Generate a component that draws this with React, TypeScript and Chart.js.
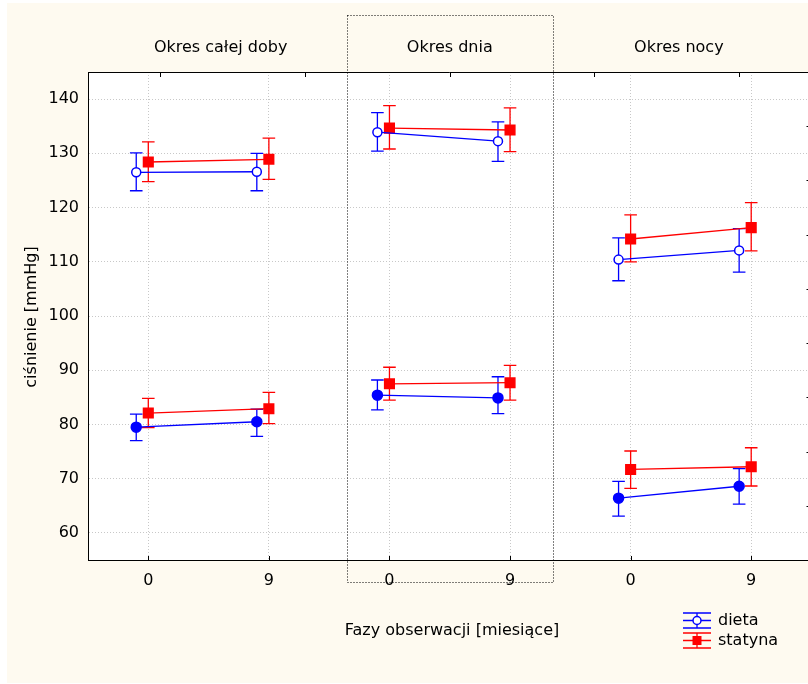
import React, { useEffect, useRef } from "react";
import { Chart, registerables } from "chart.js";

Chart.register(...registerables);

// ---------- data ----------
const xPositions = [0, 1, 2, 3, 4, 5];
const xTickLabels = ["0", "9", "0", "9", "0", "9"];
const panelTitles = ["Okres całej doby", "Okres dnia", "Okres nocy"];
const yTicks = [60, 70, 80, 90, 100, 110, 120, 130, 140];
const rightMinorTicks = [65, 75, 85, 95, 105, 115, 125, 135];
const topTicks = [0.1, 1.3, 2.5, 3.7, 4.9];
const seriesNames = ["dieta", "statyna"];

// systolic (upper group)
const dietaSys = [126.5, 126.6, 133.9, 132.25, 110.4, 112.1];
const dietaSysLo = [123.1, 123.1, 130.4, 128.5, 106.5, 108.1];
const dietaSysHi = [130.1, 130.0, 137.5, 135.8, 114.4, 116.1];
const statynaSys = [128.4, 128.9, 134.65, 134.3, 114.2, 116.3];
const statynaSysLo = [124.8, 125.2, 130.8, 130.3, 110.0, 112.0];
const statynaSysHi = [132.1, 132.8, 138.8, 138.4, 118.65, 120.9];
// diastolic (lower group)
const dietaDia = [79.5, 80.5, 85.4, 84.9, 66.4, 68.6];
const dietaDiaLo = [77.0, 77.8, 82.7, 82.0, 63.1, 65.3];
const dietaDiaHi = [81.9, 82.8, 88.2, 88.8, 69.5, 71.85];
const statynaDia = [82.1, 82.9, 87.5, 87.7, 71.7, 72.2];
const statynaDiaLo = [79.4, 80.15, 84.5, 84.5, 68.2, 68.65];
const statynaDiaHi = [84.8, 85.9, 90.55, 90.9, 75.1, 75.7];

// ---------- styles ----------
const BLUE = "#0000ff";
const RED = "#ff0000";
const CREAM = "#fefaf0";
const GRID = "#c8c8c8";
const FONT_FAMILY = '"DejaVu Sans", "Liberation Sans", Arial, sans-serif';
const FONT = `16px ${FONT_FAMILY}`;
const W = 830;
const H = 684;
const BLUE_SHIFT = -0.1;

type S = {
  vals: number[];
  lo: number[];
  hi: number[];
  color: string;
  shift: number;
  style: string;
  radius: number;
  fill: string;
};

const seriesDefs: S[] = [
  { vals: dietaSys, lo: dietaSysLo, hi: dietaSysHi, color: BLUE, shift: BLUE_SHIFT, style: "circle", radius: 4.5, fill: "#ffffff" },
  { vals: statynaSys, lo: statynaSysLo, hi: statynaSysHi, color: RED, shift: 0, style: "rect", radius: 6.8, fill: RED },
  { vals: dietaDia, lo: dietaDiaLo, hi: dietaDiaHi, color: BLUE, shift: BLUE_SHIFT, style: "circle", radius: 5, fill: BLUE },
  { vals: statynaDia, lo: statynaDiaLo, hi: statynaDiaHi, color: RED, shift: 0, style: "rect", radius: 6.8, fill: RED },
];

function buildDatasets() {
  const ds: any[] = [];
  for (let p = 0; p < 3; p++) {
    const idx = [2 * p, 2 * p + 1];
    seriesDefs.forEach((s) => {
      ds.push({
        data: idx.map((i) => ({ x: xPositions[i] + s.shift, y: s.vals[i] })),
        lo: idx.map((i) => s.lo[i]),
        hi: idx.map((i) => s.hi[i]),
        borderColor: s.color,
        borderWidth: 1.3,
        pointStyle: s.style,
        pointRadius: s.radius,
        pointBackgroundColor: s.fill,
        pointBorderColor: s.color,
        pointBorderWidth: 1.5,
        showLine: true,
        fill: false,
        tension: 0,
      });
    });
  }
  return ds;
}

const decorPlugin = {
  id: "decor",
  beforeDraw(chart: any) {
    const { ctx, chartArea: ca } = chart;
    ctx.save();
    ctx.fillStyle = "#ffffff";
    ctx.fillRect(0, 0, chart.width, chart.height);
    ctx.fillStyle = CREAM;
    ctx.fillRect(7, 3, chart.width - 7, 680);
    ctx.fillStyle = "#ffffff";
    ctx.fillRect(ca.left, ca.top, ca.right - ca.left, ca.bottom - ca.top);
    ctx.restore();
  },
  beforeDatasetsDraw(chart: any) {
    const { ctx } = chart;
    const xs = chart.scales.x;
    const ys = chart.scales.y;
    ctx.save();
    chart.data.datasets.forEach((d: any) => {
      ctx.strokeStyle = d.borderColor;
      ctx.lineWidth = 1.3;
      d.data.forEach((pt: any, j: number) => {
        const px = xs.getPixelForValue(pt.x);
        const yl = ys.getPixelForValue(d.lo[j]);
        const yh = ys.getPixelForValue(d.hi[j]);
        const cap = 6.3;
        ctx.beginPath();
        ctx.moveTo(px, yl);
        ctx.lineTo(px, yh);
        ctx.moveTo(px - cap, yl);
        ctx.lineTo(px + cap, yl);
        ctx.moveTo(px - cap, yh);
        ctx.lineTo(px + cap, yh);
        ctx.stroke();
      });
    });
    ctx.restore();
  },
  afterDraw(chart: any) {
    const { ctx, chartArea: ca } = chart;
    const xs = chart.scales.x;
    const ys = chart.scales.y;
    ctx.save();
    // top frame line
    ctx.strokeStyle = "#000";
    ctx.lineWidth = 1;
    ctx.beginPath();
    ctx.moveTo(ca.left, Math.round(ca.top) + 0.5);
    ctx.lineTo(ca.right, Math.round(ca.top) + 0.5);
    ctx.stroke();
    // inward ticks: bottom at categories
    ctx.beginPath();
    xPositions.forEach((v) => {
      const px = Math.round(xs.getPixelForValue(v)) + 0.5;
      ctx.moveTo(px, ca.bottom);
      ctx.lineTo(px, ca.bottom - 4);
    });
    // top ticks
    topTicks.forEach((v) => {
      const px = Math.round(xs.getPixelForValue(v)) + 0.5;
      ctx.moveTo(px, ca.top);
      ctx.lineTo(px, ca.top + 5);
    });
    // right ticks
    rightMinorTicks.forEach((v) => {
      const py = Math.round(ys.getPixelForValue(v)) + 0.5;
      ctx.moveTo(ca.right, py);
      ctx.lineTo(ca.right - 5, py);
    });
    ctx.stroke();

    // panel titles
    ctx.fillStyle = "#000";
    ctx.font = FONT;
    ctx.textAlign = "center";
    ctx.textBaseline = "middle";
    const titleX = [0.6, 2.5, 4.4];
    panelTitles.forEach((t, i) => {
      ctx.fillText(t, xs.getPixelForValue(titleX[i]), 48);
    });
    // x axis title
    ctx.fillText("Fazy obserwacji [miesiące]", 452, 631);
    // y axis title
    ctx.save();
    ctx.translate(32, 317);
    ctx.rotate(-Math.PI / 2);
    ctx.fillText("ciśnienie [mmHg]", 0, 0);
    ctx.restore();

    // dotted rectangle around middle panel
    ctx.strokeStyle = "#000";
    ctx.lineWidth = 1;
    ctx.setLineDash([1, 2]);
    const rl = Math.round(xs.getPixelForValue(2.5 - 0.855)) + 0.5;
    const rr = Math.round(xs.getPixelForValue(2.5 + 0.86)) + 0.5;
    ctx.strokeRect(rl, 15.5, rr - rl, 567);
    ctx.setLineDash([]);

    // legend
    const legendColors = [BLUE, RED];
    const legendY = [620.5, 640.5];
    seriesNames.forEach((name, i) => {
      const cy = legendY[i];
      const c = legendColors[i];
      ctx.strokeStyle = c;
      ctx.lineWidth = 1.3;
      ctx.beginPath();
      for (const dy of [-7.5, 0, 7.5]) {
        ctx.moveTo(683, cy + dy);
        ctx.lineTo(711, cy + dy);
      }
      ctx.moveTo(697, cy - 7.5);
      ctx.lineTo(697, cy + 7.5);
      ctx.stroke();
      if (i === 0) {
        ctx.fillStyle = "#fff";
        ctx.lineWidth = 1.5;
        ctx.beginPath();
        ctx.arc(697, cy, 4, 0, Math.PI * 2);
        ctx.fill();
        ctx.stroke();
      } else {
        ctx.fillStyle = RED;
        ctx.fillRect(692.5, cy - 4.5, 9, 9);
      }
      ctx.fillStyle = "#000";
      ctx.textAlign = "left";
      ctx.fillText(name, 718, cy);
    });
    ctx.restore();
  },
};

export default function App() {
  const ref = useRef<HTMLCanvasElement | null>(null);

  useEffect(() => {
    if (!ref.current) return;
    Chart.defaults.font.family = FONT_FAMILY;
    const chart = new Chart(ref.current, {
      type: "line",
      data: { datasets: buildDatasets() },
      options: {
        responsive: false,
        animation: false,
        devicePixelRatio: 1,
        layout: { padding: { left: 0, top: 72, right: W - 811.5, bottom: H - 560 - 40 } },
        plugins: {
          legend: { display: false },
          tooltip: { enabled: false },
          title: { display: false },
        },
        scales: {
          x: {
            type: "linear",
            min: -0.5,
            max: 5.5,
            afterBuildTicks: (s: any) => {
              s.ticks = xPositions.map((v) => ({ value: v }));
            },
            afterFit: (s: any) => {
              s.height = 40;
            },
            ticks: {
              color: "#000",
              font: { size: 16, family: FONT_FAMILY },
              padding: 11,
              maxRotation: 0,
              autoSkip: false,
              callback: (v: any) => xTickLabels[xPositions.indexOf(Number(v))] ?? "",
            },
            grid: { color: GRID, lineWidth: 1, drawTicks: false },
            border: { display: true, color: "#000", width: 1, dash: [1, 2] },
          },
          y: {
            type: "linear",
            min: 55,
            max: 145,
            afterBuildTicks: (s: any) => {
              s.ticks = yTicks.map((v) => ({ value: v }));
            },
            afterFit: (s: any) => {
              s.width = 88;
            },
            ticks: {
              color: "#000",
              font: { size: 16, family: FONT_FAMILY },
              padding: 9,
              autoSkip: false,
            },
            grid: { color: GRID, lineWidth: 1, drawTicks: false },
            border: { display: true, color: "#000", width: 1, dash: [1, 2] },
          },
        },
      },
      plugins: [decorPlugin],
    } as any);
    return () => chart.destroy();
  }, []);

  return (
    <div
      style={{
        position: "absolute",
        left: 0,
        top: 0,
        width: 808,
        height: 684,
        overflow: "hidden",
        background: "#fff",
      }}
    >
      <canvas ref={ref} width={W} height={H} style={{ width: W, height: H, display: "block" }} />
    </div>
  );
}
